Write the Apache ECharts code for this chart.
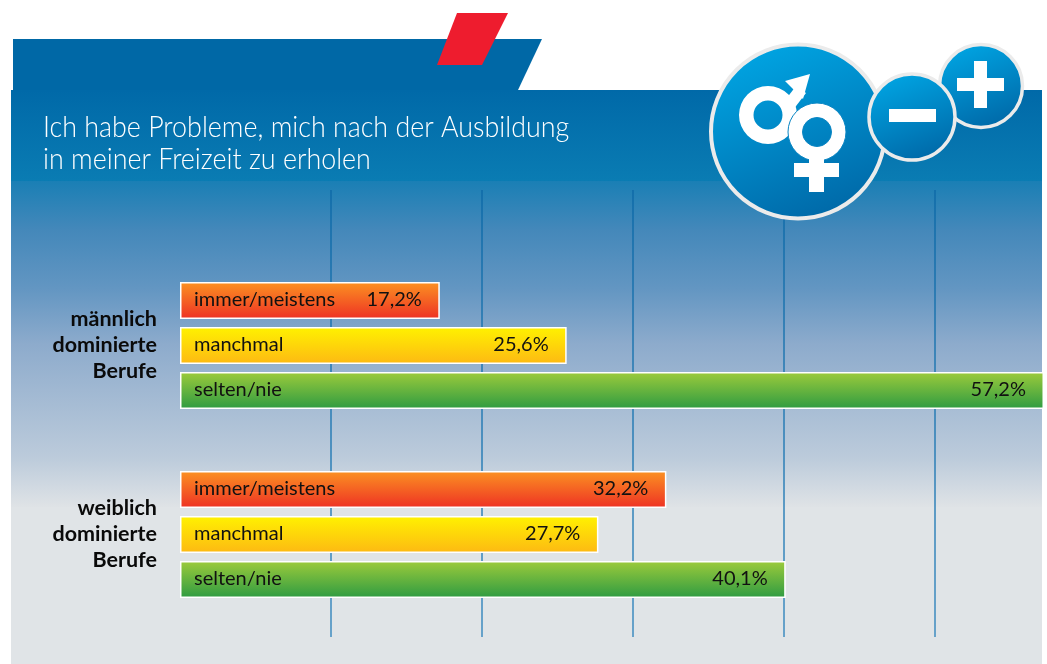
<!DOCTYPE html>
<html><head><meta charset="utf-8">
<style>html,body{margin:0;padding:0;background:#fff}#c{width:1047px;height:664px}</style>
<script src="https://cdn.jsdelivr.net/npm/echarts@6/dist/echarts.min.js"></script>
</head><body><div id="c"></div>
<script>
const categories = ['männlich\ndominierte\nBerufe', 'weiblich\ndominierte\nBerufe'];
const seriesNames = ['immer/meistens', 'manchmal', 'selten/nie'];
const immerMeistens = [17.2, 32.2];
const manchmal = [25.6, 27.7];
const seltenNie = [57.2, 40.1];
const axisMin = 0;
const axisMax = 57.4;
const axisStep = 10;
const titleText = 'Ich habe Probleme, mich nach der Ausbildung\nin meiner Freizeit zu erholen';

const FONT = 'Lato,"Open Sans",sans-serif';
const grad = (a, b) => new echarts.graphic.LinearGradient(0, 0, 0, 1, [{offset: 0, color: a}, {offset: 1, color: b}]);
const circGrad = () => new echarts.graphic.LinearGradient(0.3, 0, 0.7, 1, [{offset: 0, color: '#00a5e3'}, {offset: 1, color: '#0067a6'}]);
const fmt = v => v.toFixed(1).replace('.', ',') + '%';

const palette = [['#fb9222', '#ee3124'], ['#fff200', '#fdb913'], ['#9dcb3b', '#2e9b42']];
const values = [immerMeistens, manchmal, seltenNie];

const series = [];
seriesNames.forEach((name, i) => {
  series.push({
    type: 'bar', name, xAxisIndex: 1, yAxisIndex: 1, stack: 's' + i, barWidth: 37, barGap: '21.6%',
    data: values[i], z: 3,
    itemStyle: {color: grad(palette[i][0], palette[i][1]), borderColor: '#fff', borderWidth: 1.5},
    label: {show: true, position: 'insideLeft', distance: 14, offset: [0, -1], formatter: name, color: '#111', fontFamily: FONT, fontSize: 20}
  });
  series.push({
    type: 'bar', name: name + ' %', xAxisIndex: 1, yAxisIndex: 1, stack: 's' + i, barWidth: 37, barGap: '21.6%',
    data: values[i].map(() => 0), z: 4,
    itemStyle: {color: 'transparent', borderWidth: 0},
    label: {show: true, position: 'left', distance: 18, offset: [0, -1], color: '#111', fontFamily: FONT, fontSize: 20,
      formatter: p => fmt(values[i][p.dataIndex])}
  });
});

const WHITE = '#fff';
const icon = (type, shape, z, style) => ({type, shape, z, silent: true, style});
const graphic = [
  {type: 'polygon', z: -10, silent: true, shape: {points: [[13, 39], [542, 39], [518, 90], [13, 90]]}, style: {fill: '#0068a6'}},
  {type: 'rect', z: -10, silent: true, shape: {x: 11, y: 90, width: 1031, height: 91}, style: {fill: grad('#0069a8', '#0a7cb3')}},
  {type: 'rect', z: -10, silent: true, shape: {x: 11, y: 181, width: 1031, height: 326},
    style: {fill: new echarts.graphic.LinearGradient(0, 0, 0, 1, [
      {offset: 0, color: '#1a7fb5'}, {offset: 0.15, color: '#4488ba'}, {offset: 0.33, color: '#6396c2'}, {offset: 0.5, color: '#8dabcc'},
      {offset: 0.85, color: '#bccbdb'}, {offset: 1, color: '#dfe3e6'}])}},
  {type: 'rect', z: -10, silent: true, shape: {x: 11, y: 507, width: 1031, height: 157}, style: {fill: '#e0e4e7'}},
  {type: 'polygon', z: -9, silent: true, shape: {points: [[457, 13], [508, 13], [482, 65], [437, 65]]}, style: {fill: '#ee1c2e'}},

  {type: 'text', z: 30, silent: true, x: 43, y: 112, scaleX: 0.926,
    style: {text: titleText, fill: '#ffffff', font: '300 29px ' + FONT, lineHeight: 32, verticalAlign: 'top'}},

  icon('circle', {cx: 798, cy: 131.5, r: 87}, 20, {fill: circGrad(), stroke: '#ebebeb', lineWidth: 4}),
  icon('polygon', {points: [[783, 103], [793, 110], [806, 93], [796, 86]]}, 21, {fill: WHITE}),
  icon('polygon', {points: [[785, 81], [810, 74], [803, 99]]}, 21, {fill: WHITE}),
  icon('ring', {cx: 768, cy: 115, r: 29, r0: 14.5}, 21, {fill: WHITE}),
  icon('ring', {cx: 817, cy: 132, r: 29, r0: 14.5}, 22, {fill: WHITE, stroke: '#0a86c4', lineWidth: 1}),
  icon('rect', {x: 809, y: 158, width: 15, height: 34}, 22, {fill: WHITE}),
  icon('rect', {x: 794, y: 163, width: 45, height: 14}, 22, {fill: WHITE}),

  icon('circle', {cx: 981, cy: 86, r: 41.5}, 23, {fill: circGrad(), stroke: '#ebebeb', lineWidth: 3.5}),
  icon('rect', {x: 957, y: 78, width: 47, height: 13}, 24, {fill: WHITE}),
  icon('rect', {x: 974, y: 61, width: 13, height: 47}, 24, {fill: WHITE}),

  icon('circle', {cx: 912, cy: 117, r: 43}, 25, {fill: circGrad(), stroke: '#ebebeb', lineWidth: 3.5}),
  icon('rect', {x: 889, y: 109, width: 47, height: 13}, 26, {fill: WHITE})
];

const gridLineColor = new echarts.graphic.LinearGradient(0, 190, 0, 637,
  [{offset: 0, color: '#0e6aa8'}, {offset: 1, color: '#3f8cc0'}], true);

const option = {
  animation: false,
  backgroundColor: '#fff',
  grid: [
    {left: 180, top: 190, right: 0, height: 447},
    {left: 180, top: 251, right: 0, height: 378}
  ],
  xAxis: [
    {gridIndex: 0, type: 'value', min: axisMin, max: axisMax, interval: axisStep,
      axisLine: {show: false}, axisTick: {show: false}, axisLabel: {show: false},
      splitLine: {show: true, showMinLine: false, showMaxLine: false, lineStyle: {color: gridLineColor, width: 1.5}}},
    {gridIndex: 1, type: 'value', min: axisMin, max: axisMax, interval: axisStep, show: false, splitLine: {show: false}}
  ],
  yAxis: [
    {gridIndex: 0, type: 'value', show: false, min: 0, max: 1, splitLine: {show: false}},
    {gridIndex: 1, type: 'category', inverse: true, data: categories,
      axisLine: {show: false}, axisTick: {show: false},
      axisLabel: {margin: 23, align: 'right', color: '#0a0a0a', fontFamily: FONT, fontWeight: 'bold', fontSize: 21.5, lineHeight: 26, padding: [0, 0, 6, 0]}}
  ],
  series,
  graphic
};
echarts.init(document.getElementById('c'), null, {renderer: 'canvas'}).setOption(option);
</script></body></html>
